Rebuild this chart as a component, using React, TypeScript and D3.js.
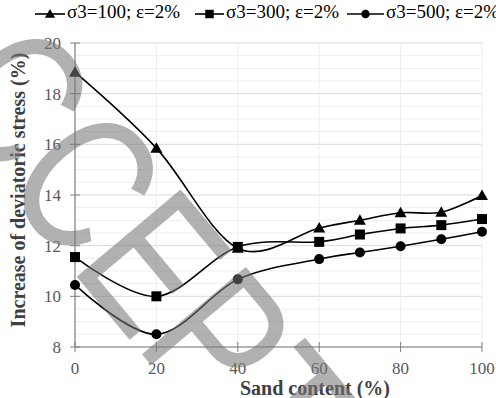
import React from "react";
import * as d3 from "d3";

// sand content (%)
const sand = [0, 20, 40, 60, 70, 80, 90, 100];
// increase of deviatoric stress (%)
const s100 = [18.85, 15.85, 11.9, 12.7, 13.0, 13.3, 13.32, 13.98];
const s300 = [11.55, 10.0, 11.95, 12.15, 12.44, 12.68, 12.81, 13.05];
const s500 = [10.45, 8.5, 10.67, 11.47, 11.73, 11.98, 12.25, 12.55];
const seriesNames = ["σ3=100; ε=2%", "σ3=300; ε=2%", "σ3=500; ε=2%"];
const xTicks = [0, 20, 40, 60, 80, 100];
const yTicks = [8, 10, 12, 14, 16, 18, 20];

const W = 496;
const H = 398;
const serif = "Liberation Serif, Times New Roman, serif";

const Marker = ({ kind, x, y, s = 1 }: { kind: string; x: number; y: number; s?: number }) => {
  if (kind === "tri") {
    return (
      <path
        d={`M${x},${y - 6 * s}L${x + 6 * s},${y + 4.5 * s}L${x - 6 * s},${y + 4.5 * s}Z`}
        fill="#000"
      />
    );
  }
  if (kind === "sq") return <rect x={x - 5 * s} y={y - 5 * s} width={10 * s} height={10 * s} fill="#000" />;
  return <circle cx={x} cy={y} r={5 * s} fill="#000" />;
};

export default function App() {
  const x = d3.scaleLinear().domain([0, 100]).range([75, 482]);
  const y = d3.scaleLinear().domain([8, 20]).range([347, 43]);
  const minor = d3.range(8, 20.01, 0.5);

  const line = d3
    .line<number>()
    .x((_, i) => x(sand[i]))
    .y((d) => y(d))
    .curve(d3.curveCatmullRom.alpha(0));

  const series = [
    { vals: s100, kind: "tri" },
    { vals: s300, kind: "sq" },
    { vals: s500, kind: "circ" },
  ];
  const legendX = [35, 195, 347];
  const legendText = [67, 226, 386];

  return (
    <svg width={W} height={H} style={{ position: "absolute", left: 0, top: 0 }}>
      <rect width={W} height={H} fill="#fff" />
      {/* grid */}
      {minor.map((v) => (
        <line
          key={"m" + v}
          x1={x(0)}
          x2={x(100)}
          y1={y(v)}
          y2={y(v)}
          stroke={v % 2 === 0 ? "#d9d9d9" : "#eeeeee"}
          strokeWidth={1}
        />
      ))}
      {xTicks.map((v) => (
        <line key={"vx" + v} x1={x(v)} x2={x(v)} y1={y(8)} y2={y(20)} stroke="#eeeeee" />
      ))}
      {/* axes */}
      <line x1={x(0)} x2={x(0)} y1={y(8)} y2={y(20)} stroke="#808080" strokeWidth={1.2} />
      <line x1={x(0)} x2={x(100)} y1={y(8)} y2={y(8)} stroke="#808080" strokeWidth={1.2} />
      {yTicks.map((v) => (
        <g key={"yt" + v}>
          <line x1={x(0) - 5} x2={x(0) + 5} y1={y(v)} y2={y(v)} stroke="#808080" />
          <text x={61} y={y(v) + 6} textAnchor="end" fontFamily={serif} fontSize={17} fill="#595959">
            {v}
          </text>
        </g>
      ))}
      {xTicks.map((v) => (
        <g key={"xt" + v}>
          <line x1={x(v)} x2={x(v)} y1={y(8) - 5} y2={y(8) + 5} stroke="#808080" />
          <text x={x(v)} y={374} textAnchor="middle" fontFamily={serif} fontSize={17} fill="#595959">
            {v}
          </text>
        </g>
      ))}
      {/* titles */}
      <text x={315} y={395} textAnchor="middle" fontFamily={serif} fontSize={20} fontWeight="bold" fill="#404040">
        Sand content (%)
      </text>
      <text
        transform="translate(25,190) rotate(-90)"
        textAnchor="middle"
        fontFamily={serif}
        fontSize={20}
        fontWeight="bold"
        fill="#404040"
      >
        Increase of deviatoric stress (%)
      </text>
      {/* series */}
      {series.map((s, k) => (
        <g key={"s" + k}>
          <path d={line(s.vals) || ""} fill="none" stroke="#000" strokeWidth={1.6} />
          {s.vals.map((v, i) => (
            <Marker key={i} kind={s.kind} x={x(sand[i])} y={y(v)} />
          ))}
        </g>
      ))}
      {/* legend */}
      {series.map((s, k) => (
        <g key={"l" + k}>
          <line x1={legendX[k]} x2={legendText[k] - 2} y1={14} y2={14} stroke="#000" strokeWidth={1.6} />
          <Marker kind={s.kind} x={(legendX[k] + legendText[k] - 2) / 2} y={14} s={0.85} />
          <text
            x={legendText[k]}
            y={18}
            fontFamily={serif}
            fontSize={18}
            fill="#000"
            textLength={113}
            lengthAdjust="spacingAndGlyphs"
          >
            {seriesNames[k]}
          </text>
        </g>
      ))}
      {/* watermark */}
      <text
        transform="translate(-137,22) rotate(50) scale(0.77,1)"
        fontFamily="Liberation Sans, Arial, sans-serif"
        fontSize={197}
        fill="#777"
        opacity={0.57}
      >
        ACCEPTED
      </text>
    </svg>
  );
}
